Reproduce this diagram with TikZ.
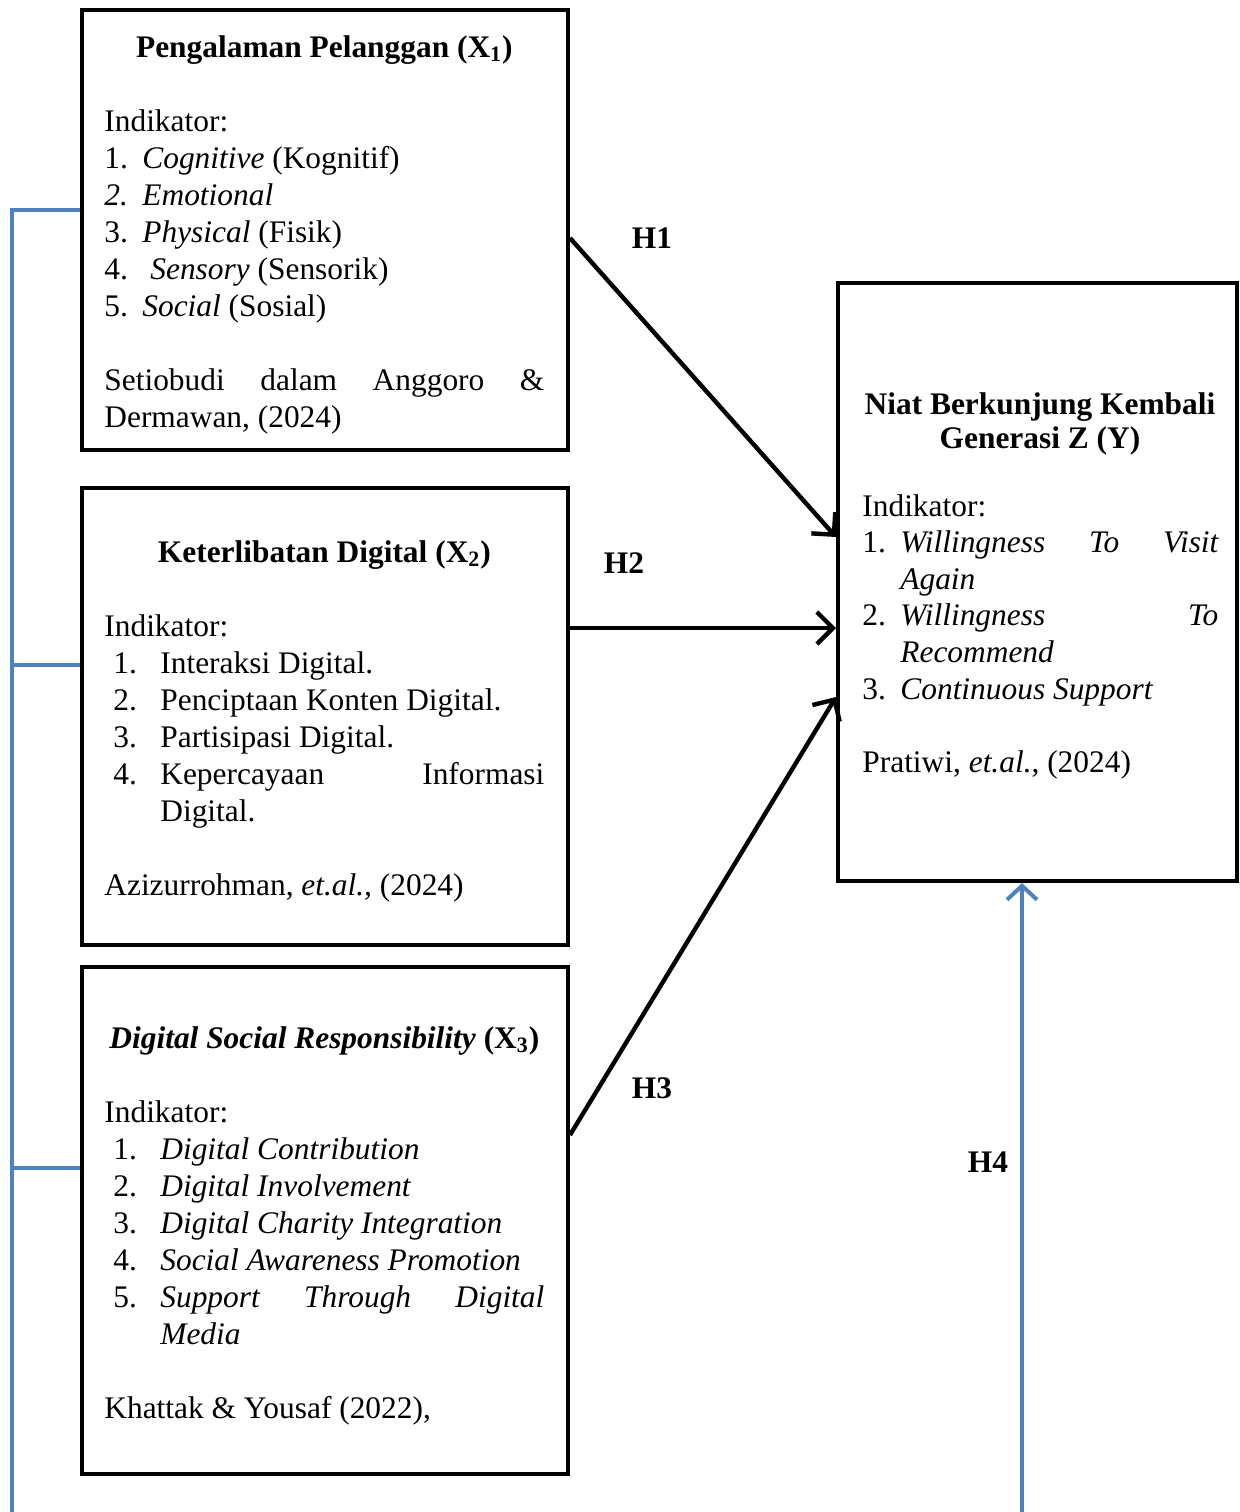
\documentclass[tikz,border=0pt]{standalone}
\usepackage{fontspec}
\setmainfont{Liberation Serif}
\usetikzlibrary{arrows.meta}
\definecolor{wordblue}{RGB}{79,129,189}
% one numbered indicator line: number position, text position, number, text
\newcommand{\itemrow}[4]{\par\noindent\hangindent=#2\hangafter=1%
  \hspace*{#1}\makebox[\dimexpr#2-#1\relax][l]{#3}#4\par}

\begin{document}
\begin{tikzpicture}[x=0.5pt,y=-0.5pt,
  box/.style = {draw, line width=2pt, inner sep=0pt},
  txt/.style = {text width=#1, inner sep=0pt, anchor=base west, align=justify,
    font=\fontsize{15.7pt}{18.5pt}\selectfont},
  txt/.default = 220pt,
  hyp/.style = {font=\fontsize{15.7pt}{18.5pt}\selectfont\bfseries},
  arr/.style = {line width=2.2pt, -{Straight Barb[length=8pt,width=16pt]}},
  bl/.style = {wordblue, line width=2pt},
  blarr/.style = {bl, -{Straight Barb[length=7pt,width=15pt]}}]
	\useasboundingbox (0,0) rectangle (1240,1512);

	% boxes
	\node[box, minimum width=243pt, minimum height=220pt] (x1) at (325,230) {};
	\node[box, minimum width=243pt, minimum height=228.5pt] (x2) at (325,716.5) {};
	\node[box, minimum width=243pt, minimum height=253.5pt] (x3) at (325,1220.5) {};
	\node[box, minimum width=199.5pt, minimum height=299pt] (y) at (1037.5,582) {};

	% X1
	\node[txt] (x1t) at (104,57) {%
		{\centering\bfseries Pengalaman Pelanggan (X\textsubscript{1})\par}
		\vskip\baselineskip
		Indikator:\par
		\itemrow{0pt}{19pt}{1.}{\textit{Cognitive} (Kognitif)}
		\itemrow{0pt}{19pt}{\textit{2.}}{\textit{Emotional}}
		\itemrow{0pt}{19pt}{3.}{\textit{Physical} (Fisik)}
		\itemrow{0pt}{19pt}{4.}{\hspace{4pt}\textit{Sensory} (Sensorik)}
		\itemrow{0pt}{19pt}{5.}{\textit{Social} (Sosial)}
		\vskip\baselineskip
		Setiobudi dalam Anggoro \&\linebreak Dermawan, (2024)};

	% X2
	\node[txt] (x2t) at (104,562) {%
		{\centering\bfseries Keterlibatan Digital (X\textsubscript{2})\par}
		\vskip\baselineskip
		Indikator:\par
		\itemrow{4.5pt}{28pt}{1.}{Interaksi Digital.}
		\itemrow{4.5pt}{28pt}{2.}{Penciptaan Konten Digital.}
		\itemrow{4.5pt}{28pt}{3.}{Partisipasi Digital.}
		\itemrow{4.5pt}{28pt}{4.}{Kepercayaan Informasi\linebreak Digital.}
		\vskip\baselineskip
		Azizurrohman, \textit{et.al.,} (2024)};

	% X3
	\node[txt] (x3t) at (104,1048) {%
		{\centering\bfseries\textit{Digital Social Responsibility} (X\textsubscript{3})\par}
		\vskip\baselineskip
		Indikator:\par
		\itemrow{4.5pt}{28pt}{1.}{\textit{Digital Contribution}}
		\itemrow{4.5pt}{28pt}{2.}{\textit{Digital Involvement}}
		\itemrow{4.5pt}{28pt}{3.}{\textit{Digital Charity Integration}}
		\itemrow{4.5pt}{28pt}{4.}{\textit{Social Awareness Promotion}}
		\itemrow{4.5pt}{28pt}{5.}{\textit{Support Through Digital\linebreak Media}}
		\vskip\baselineskip
		Khattak \& Yousaf (2022),};

	% Y
	\node[hyp, align=center, anchor=base,
		font=\fontsize{15.7pt}{17pt}\selectfont\bfseries] (yt) at (1040,448)
		{Niat Berkunjung Kembali\\Generasi Z (Y)};
	\node[txt=178pt, font=\fontsize{15.7pt}{18.3pt}\selectfont] (yb) at (862,516) {%
		Indikator:\par
		\itemrow{0pt}{19pt}{1.}{\textit{Willingness To Visit\linebreak Again}}
		\itemrow{0pt}{19pt}{2.}{\textit{Willingness To\linebreak Recommend}}
		\itemrow{0pt}{19pt}{3.}{\textit{Continuous Support}}
		\vskip\baselineskip
		Pratiwi, \textit{et.al.}, (2024)};

	% connector ends
	\path (x1.east) ++(0,8) coordinate (h1a);
	\path (y.west) ++(0,-45) coordinate (h1b);
	\path (x2.east) ++(0,-88.5) coordinate (h2a);
	\path (y.west) ++(0,46) coordinate (h2b);
	\path (x3.east) ++(0,-85.5) coordinate (h3a);
	\path (y.west) ++(0,115) coordinate (h3b);
	\path (x1.west) ++(0,-20) coordinate (b1);
	\path (x2.west) ++(0,-51.5) coordinate (b2);
	\path (x3.west) ++(0,-52.5) coordinate (b3);
	\coordinate (jl) at (12,1512);
	\coordinate (jr) at (1022,1512);

	\draw[arr] (h1a) -- (h1b);
	\draw[arr] (h2a) -- (h2b);
	\draw[arr] (h3a) -- (h3b);
	\draw[bl] (b1) -| (jl);
	\draw[bl] (b2) -- (b2 -| jl);
	\draw[bl] (b3) -- (b3 -| jl);
	\draw[blarr] (jr) -- (jr |- y.south);

	\node[hyp] (l1) at (652,238) {H1};
	\node[hyp] (l2) at (624,563) {H2};
	\node[hyp] (l3) at (652,1088) {H3};
	\node[hyp] (l4) at (988,1162) {H4};
\end{tikzpicture}
\end{document}
